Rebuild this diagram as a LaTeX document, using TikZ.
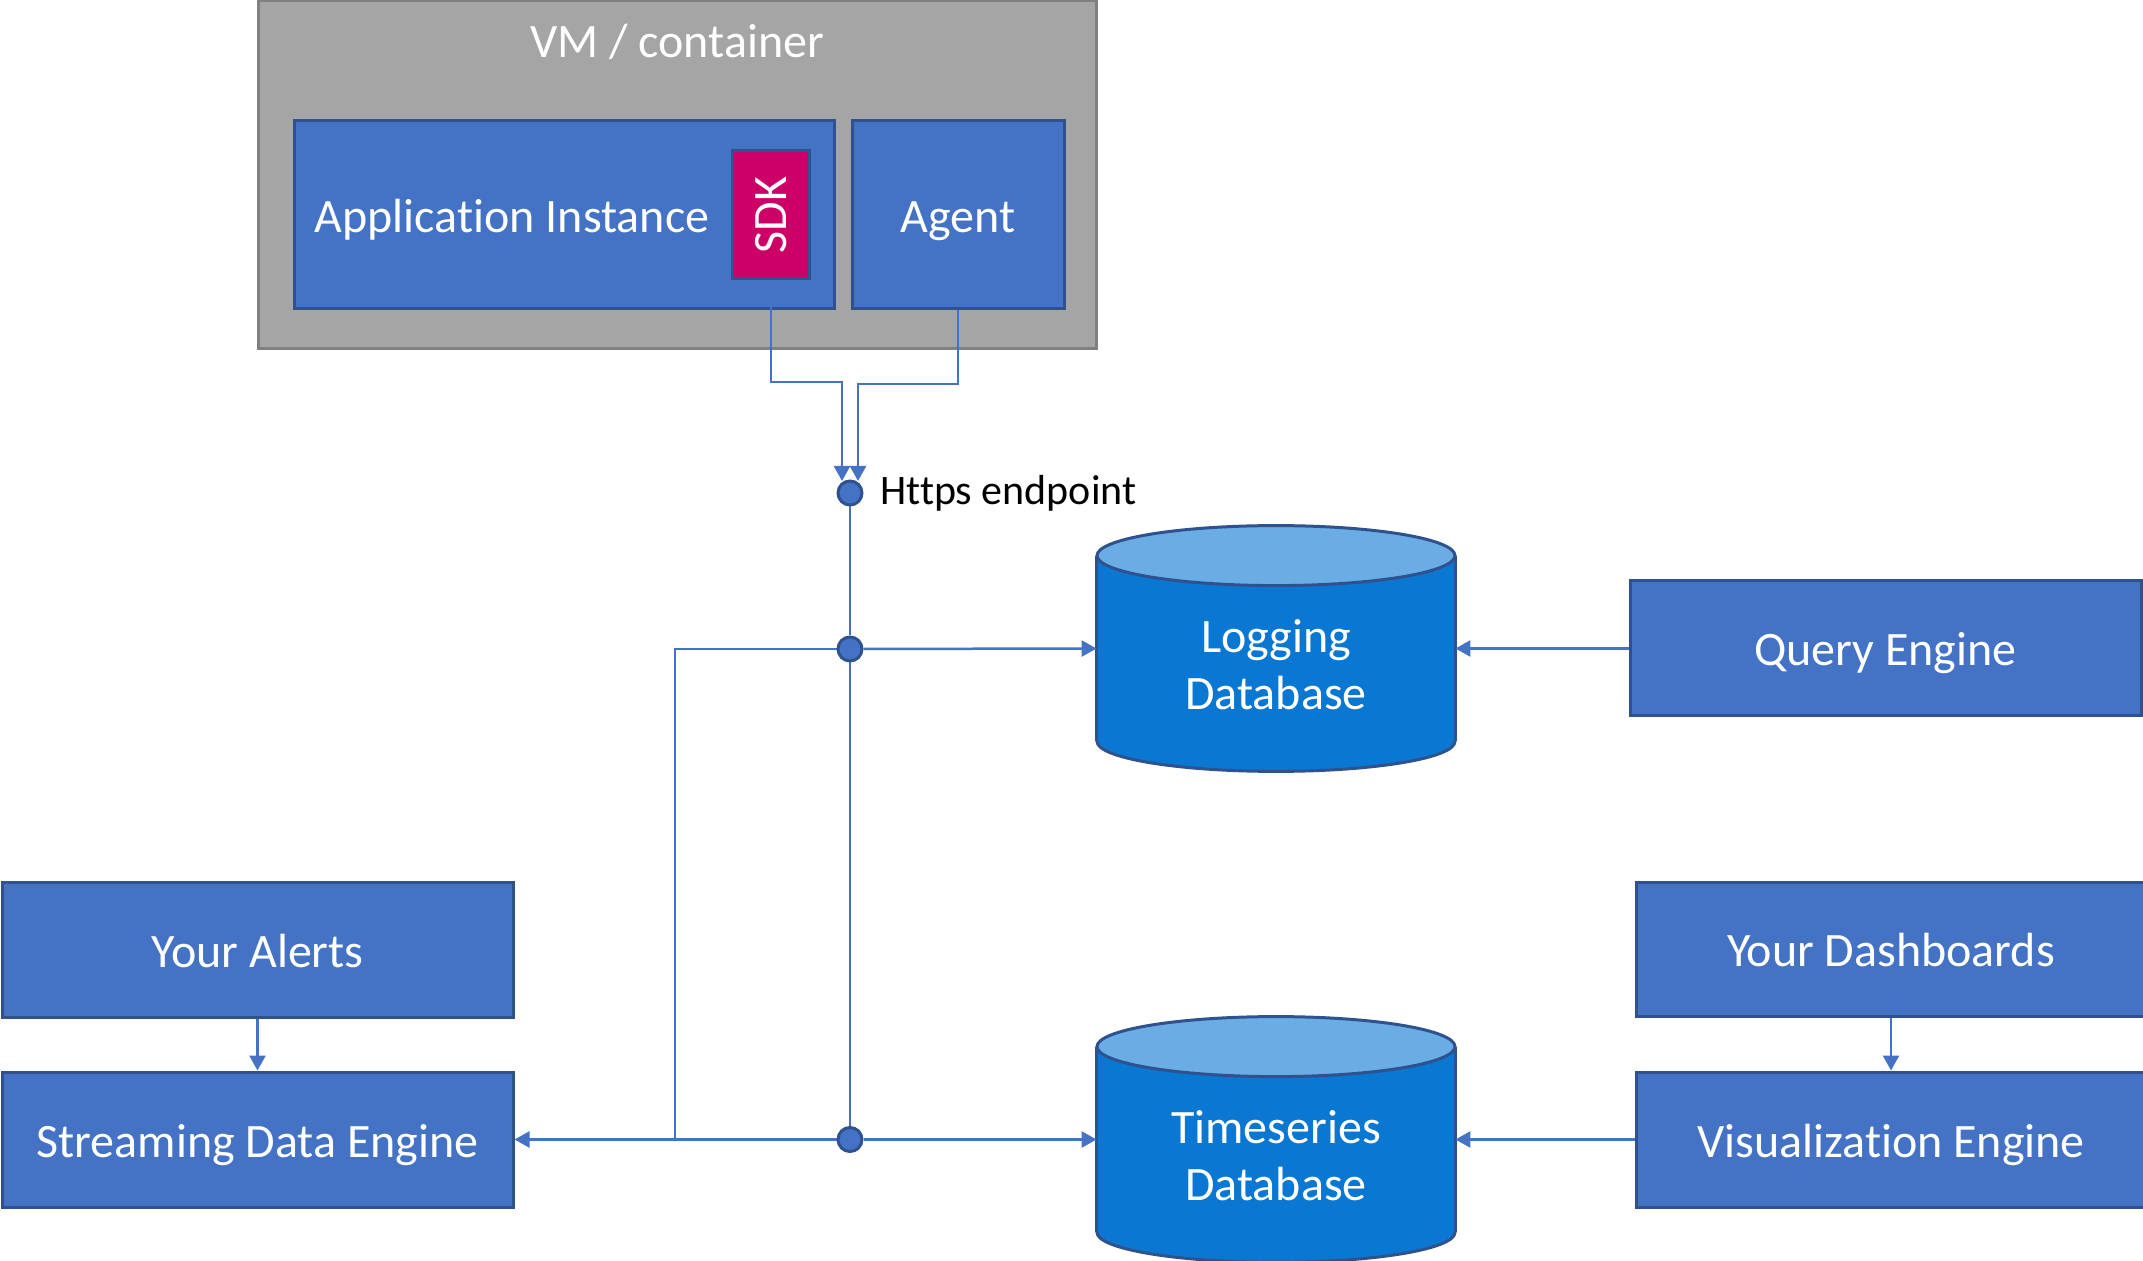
\documentclass[tikz,border=0pt]{standalone}
\usepackage{fontspec}
\setmainfont{Carlito}[Ligatures={NoCommon}]
\usepackage{graphicx}
\usetikzlibrary{arrows.meta,calc}
\definecolor{boxblue}{HTML}{4472C4}
\definecolor{boxedge}{HTML}{2F528F}
\definecolor{vmgray}{HTML}{A5A5A5}
\definecolor{vmedge}{HTML}{808080}
\definecolor{sdkpink}{HTML}{CC0066}
\definecolor{dbbody}{HTML}{0A77D2}
\definecolor{dbtop}{HTML}{6AACE4}
\pgfdeclarelayer{bg}\pgfdeclarelayer{front}\pgfsetlayers{bg,main,front}
\newcommand\drawcyl[1]{%
  \filldraw[draw=boxedge,fill=dbbody,line width=1.5pt] ($(#1.south)+(0,-30)$) ellipse [x radius=89.5pt,y radius=15pt];
  \fill[dbbody] ($(#1.north west)+(0,30)$) rectangle ($(#1.south east)+(0,-30)$);
  \draw[boxedge,line width=1.5pt] ($(#1.north west)+(0,30)$) -- ($(#1.south west)+(0,-30)$)
        ($(#1.north east)+(0,30)$) -- ($(#1.south east)+(0,-30)$);
  \filldraw[draw=boxedge,fill=dbtop,line width=1.5pt] ($(#1.north)+(0,30)$) ellipse [x radius=89.5pt,y radius=15pt];
}
\begin{document}
\begin{tikzpicture}[x=0.5pt,y=-0.5pt,
  shapebox/.style={draw=boxedge,fill=boxblue,line width=1.5pt,inner sep=0pt},
  box/.style={shapebox,text=white,font=\fontsize{24}{28}\selectfont,text height=17.5pt,text depth=0pt},
  txt/.style={text=white,font=\fontsize{24}{28.5}\selectfont,inner sep=0pt},
  dot/.style={circle,draw=boxedge,fill=boxblue,line width=1.5pt,minimum size=12pt,inner sep=0pt},
  conn/.style={draw=boxblue,line width=1.25pt},
  arr/.style={conn,-{Triangle[length=7.5pt,width=8pt]}},
  dbnode/.style={inner sep=0pt,minimum width=179pt,minimum height=122.5pt}
]
\useasboundingbox (0,0) rectangle (2143,1261);
% VM container
\begin{pgfonlayer}{bg}
\node[draw=vmedge,fill=vmgray,line width=1.5pt,minimum width=419pt,minimum height=174pt,inner sep=0pt] (vm) at (677,175) {};
\end{pgfonlayer}
\node[txt,anchor=base] (vmlabel) at (677,58) {VM / container};
% application, SDK, agent
\node[shapebox,minimum width=270pt,minimum height=94pt] (app) at (564,215) {};
\node[txt,anchor=base] (apptxt) at (512,232.5) {Application Instance};
\node[shapebox,fill=sdkpink,minimum width=38.5pt,minimum height=64pt,text=white,font=\fontsize{24}{28}\selectfont] (sdk) at (771,215) {\rotatebox{90}{SDK}};
\node[box,minimum width=106pt,minimum height=94pt] (agent) at (958,215) {Agent};
% junctions
\begin{pgfonlayer}{front}
\node[dot] (ep) at (850,493) {};
\node[dot] (j1) at (850,649) {};
\node[dot] (j3) at (850,1139.5) {};
\end{pgfonlayer}
\node[anchor=west,inner sep=0pt,font=\fontsize{21}{25}\selectfont,text height=11.5pt,text depth=0pt] (eptxt) at (880,493) {Https endpoint};
% databases
\node[dbnode] (logdb) at (1276,648.5) {};
\node[dbnode] (tsdb) at (1276,1139.5) {};
\begin{pgfonlayer}{bg}
\drawcyl{logdb}
\drawcyl{tsdb}
\end{pgfonlayer}
\node[txt,align=center] (logtxt) at (1276,665) {Logging\\Database};
\node[txt,align=center] (tstxt) at (1276,1156) {Timeseries\\Database};
% engines
\node[box,minimum width=255.5pt,minimum height=67.5pt] (query) at (1885.5,648.5) {Query Engine};
\node[box,minimum width=255pt,minimum height=67pt] (dash) at (1891,949) {Your Dashboards};
\node[box,minimum width=255pt,minimum height=67.5pt] (viz) at (1891,1139.5) {Visualization Engine};
\node[box,minimum width=255.5pt,minimum height=67.5pt] (alerts) at (257.5,949.5) {Your Alerts};
\node[box,minimum width=255.5pt,minimum height=67.5pt] (stream) at (257.5,1139.5) {Streaming Data Engine};
% connectors
\coordinate (epA) at (842,481);
\coordinate (epB) at (858,481);
\coordinate (sdkbend) at (842,382);
\coordinate (agbend) at (858,384);
\coordinate (busL) at (675,649);
\draw[arr] (sdk.south) |- (sdkbend) -- (epA);
\draw[arr] (agent.south) |- (agbend) -- (epB);
\draw[conn] (ep) -- (j1);
\draw[conn] (j1) -- (j3);
\draw[arr] (j1) -- (logdb.west);
\draw[arr] (j1) -- (busL) |- (stream.east);
\draw[conn] (j3) -- (busL |- j3);
\draw[arr] (j3) -- (tsdb.west);
\draw[arr] (query) -- (logdb.east);
\draw[arr] (viz) -- (tsdb.east);
\draw[arr] (alerts) -- (stream);
\draw[arr] (dash) -- (viz);
\end{tikzpicture}
\end{document}
